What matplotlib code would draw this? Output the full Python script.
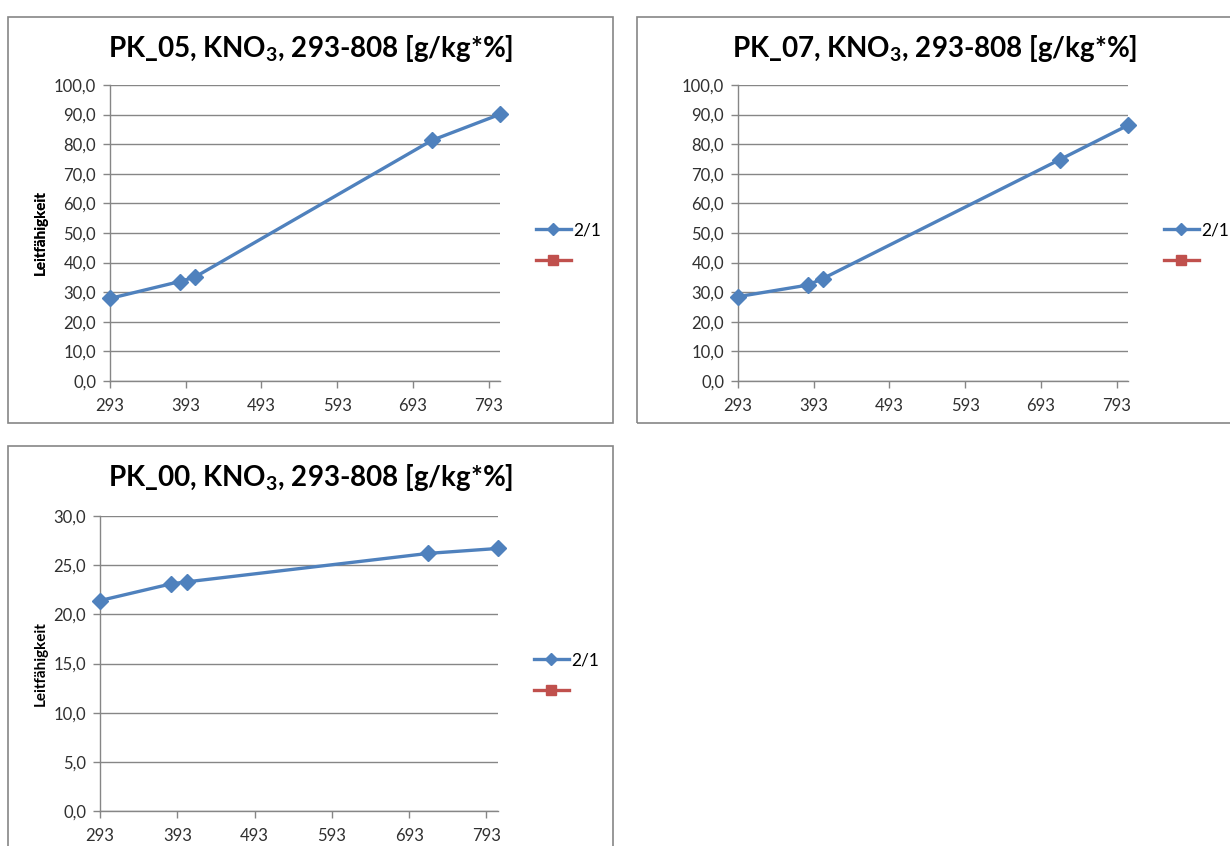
import matplotlib.pyplot as plt
from matplotlib.patches import Rectangle
from matplotlib.ticker import FuncFormatter

plt.rcParams['font.family'] = ['Lato', 'DejaVu Sans']
plt.rcParams['mathtext.default'] = 'regular'

# measured series "2/1" for three samples
temperature = [293, 385, 405, 718, 808]
pk05 = [27.9, 33.6, 35.1, 81.3, 90.1]
pk07 = [28.5, 32.4, 34.6, 74.8, 86.4]
pk00 = [21.4, 23.1, 23.3, 26.2, 26.7]
x_ticks = [293, 393, 493, 593, 693, 793]

W, H = 1230, 846
BLUE = '#4F81BD'
RED = '#C0504D'
GRID = '#868686'
TXT = '#303030'

fig = plt.figure(figsize=(W / 100, H / 100), dpi=100)


def px_box(x0, y0, x1, y1):
    # pixel box (top-left origin) -> figure fraction [left, bottom, width, height]
    return [x0 / W, 1 - y1 / H, (x1 - x0) / W, (y1 - y0) / H]


def draw_chart(frame, plot, title, values, ymax, ystep):
    l, b, w, h = px_box(*frame)
    fig.patches.append(Rectangle((l, b), w, h, transform=fig.transFigure,
                                 fill=False, edgecolor=GRID, linewidth=1.2))

    pw = plot[2] - plot[0]
    ax = fig.add_axes(px_box(*plot))
    ax.plot(temperature, values, color=BLUE, lw=2.4, marker='D', ms=8.5,
            label='2/1', zorder=3, clip_on=False)
    ax.set_xlim(293, 808)
    ax.set_ylim(0, ymax)
    ax.set_xticks(x_ticks)
    ax.set_yticks([i * ystep for i in range(int(round(ymax / ystep)) + 1)])
    ax.yaxis.set_major_formatter(FuncFormatter(lambda v, p: f'{v:.1f}'.replace('.', ',')))
    ax.grid(axis='y', color=GRID, lw=1)
    ax.set_axisbelow(True)
    for s in ['top', 'right']:
        ax.spines[s].set_visible(False)
    for s in ['left', 'bottom']:
        ax.spines[s].set_color(GRID)
        ax.spines[s].set_linewidth(1)
    ax.tick_params(colors=GRID, labelcolor=TXT, labelsize=12, length=5, width=1)
    ax.tick_params(axis='x', pad=7)
    ax.tick_params(axis='y', pad=5)
    ax.set_ylabel('Leitfähigkeit', fontsize=11, fontweight='bold', color='black')
    ax.yaxis.set_label_coords((48 - plot[0]) / pw, 0.5)

    # title centred over the chart frame
    cx = (frame[0] + frame[2]) / 2
    fig.text(cx / W, 1 - (frame[1] + 31) / H, title, ha='center', va='center',
             fontsize=20, fontweight='bold', color='black')

    # second, empty series shown only in the legend
    ax.plot([], [], color=RED, lw=2.4, marker='s', ms=7.5, label=' ')
    leg = ax.legend(loc='center left', bbox_to_anchor=(1 + 36 / pw, 0.458),
                    frameon=False, fontsize=12.5, handlelength=2.0, handletextpad=0.15,
                    labelspacing=0.85, borderpad=0, borderaxespad=0)
    leg.legend_handles[0].set_markersize(6.5)
    return ax


draw_chart((8, 17, 613, 423), (110, 85, 500, 381),
           'PK_05, KNO$_3$, 293-808 [g/kg*%]', pk05, 100, 10)
draw_chart((637, 17, 1232, 423), (738, 85, 1128, 381),
           'PK_07, KNO$_3$, 293-808 [g/kg*%]', pk07, 100, 10)
draw_chart((8, 446, 613, 850), (100, 516, 498, 811),
           'PK_00, KNO$_3$, 293-808 [g/kg*%]', pk00, 30, 5)

fig.savefig('out.png', dpi=100, facecolor='white')
